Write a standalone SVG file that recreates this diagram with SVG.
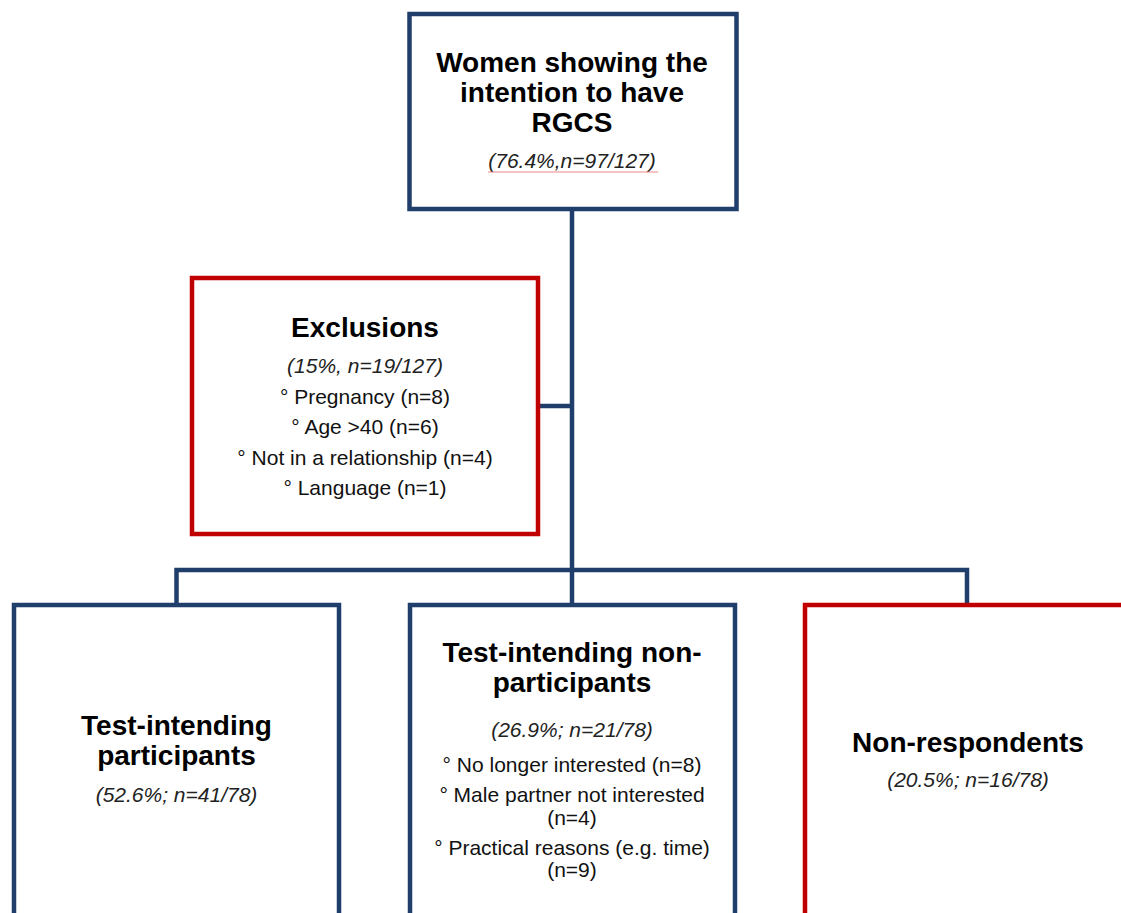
<svg xmlns="http://www.w3.org/2000/svg" width="1121" height="913" viewBox="0 0 1121 913">
  <style>
    .box-blue { fill: #ffffff; stroke: #1F3E6C; stroke-width: 4.5; }
    .box-red { fill: #ffffff; stroke: #C00000; stroke-width: 4.5; }
    .conn { fill: none; stroke: #1F3E6C; stroke-width: 4.5; }
    text { font-family: "Liberation Sans", Arial, sans-serif; fill: #000000; text-anchor: middle; }
    .title { font-size: 28px; font-weight: bold; }
    .stat { font-size: 21px; font-style: italic; fill: #222222; }
    .item { font-size: 21px; fill: #111111; }
  </style>

  <!-- connectors -->
  <g id="connectors">
    <path class="conn" d="M572 210 V570"/>
    <path class="conn" d="M539 406 H572"/>
    <path class="conn" d="M176.5 603 V570 H967 V603"/>
    <path class="conn" d="M572 570 V603"/>
  </g>

  <!-- top: intention to have RGCS -->
  <g id="node-intention">
    <rect class="box-blue" x="409.5" y="14" width="327" height="195"/>
    <text class="title" x="572" y="71.7">Women showing the</text>
    <text class="title" x="572" y="101.7">intention to have</text>
    <text class="title" x="572" y="131.7">RGCS</text>
    <text class="stat" x="572" y="167.5">(76.4%,n=97/127)</text>
    <line x1="488" y1="172" x2="658" y2="172" stroke="#E86A6A" stroke-width="1.2" stroke-opacity="0.8"/>
  </g>

  <!-- exclusions -->
  <g id="node-exclusions">
    <rect class="box-red" x="192" y="278" width="346" height="256"/>
    <text class="title" x="365" y="336.5">Exclusions</text>
    <text class="stat" x="365" y="373">(15%, n=19/127)</text>
    <text class="item" x="365" y="403.5">° Pregnancy (n=8)</text>
    <text class="item" x="365" y="434">° Age &gt;40 (n=6)</text>
    <text class="item" x="365" y="464.5">° Not in a relationship (n=4)</text>
    <text class="item" x="365" y="495">° Language (n=1)</text>
  </g>

  <!-- test-intending participants -->
  <g id="node-participants">
    <rect class="box-blue" x="14" y="605" width="325" height="330"/>
    <text class="title" x="176.5" y="735">Test-intending</text>
    <text class="title" x="176.5" y="765">participants</text>
    <text class="stat" x="176.5" y="801.5">(52.6%; n=41/78)</text>
  </g>

  <!-- test-intending non-participants -->
  <g id="node-nonparticipants">
    <rect class="box-blue" x="410" y="605" width="325" height="330"/>
    <text class="title" x="572" y="661.5">Test-intending non-</text>
    <text class="title" x="572" y="691.5">participants</text>
    <text class="stat" x="572" y="736.5">(26.9%; n=21/78)</text>
    <text class="item" x="572" y="771.7">° No longer interested (n=8)</text>
    <text class="item" x="572" y="801.7">° Male partner not interested</text>
    <text class="item" x="572" y="825">(n=4)</text>
    <text class="item" x="572" y="855">° Practical reasons (e.g. time)</text>
    <text class="item" x="572" y="876.7">(n=9)</text>
  </g>

  <!-- non-respondents -->
  <g id="node-nonrespondents">
    <rect class="box-red" x="805" y="605" width="340" height="330"/>
    <text class="title" x="968" y="751.5">Non-respondents</text>
    <text class="stat" x="968" y="786.5">(20.5%; n=16/78)</text>
  </g>
</svg>
